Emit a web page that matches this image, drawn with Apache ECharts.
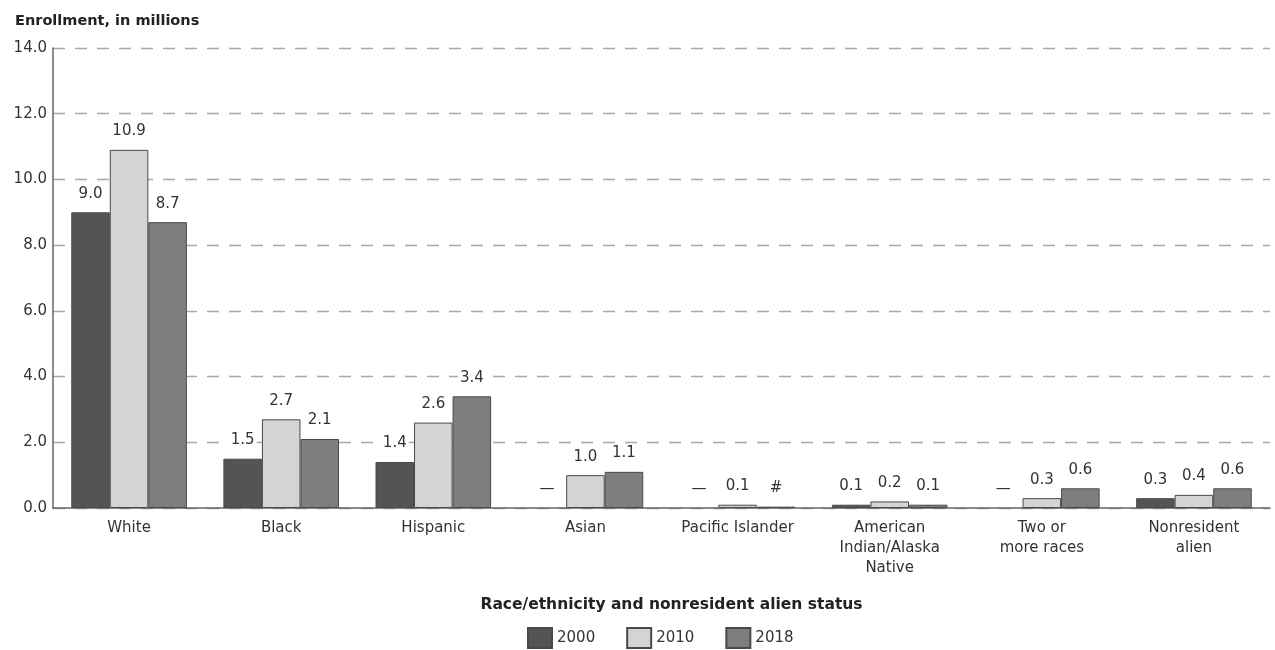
<!DOCTYPE html>
<html>
<head>
<meta charset="utf-8">
<script src="https://cdn.jsdelivr.net/npm/echarts@6/dist/echarts.min.js"></script>
<style>
  html, body { margin: 0; padding: 0; background: #fff; }
  #chart { width: 1275px; height: 650px; }
</style>
</head>
<body>
<div id="chart"></div>
<script>
// Categories along the x axis
const categories = [
  'White', 'Black', 'Hispanic', 'Asian', 'Pacific Islander',
  'American\nIndian/Alaska\nNative', 'Two or\nmore races', 'Nonresident\nalien'
];
const years = ['2000', '2010', '2018'];

// Enrollment, in millions (null = not available, shown as a dash)
const values2000 = [9.0, 1.5, 1.4, null, null, 0.1, null, 0.3];
const values2010 = [10.9, 2.7, 2.6, 1.0, 0.1, 0.2, 0.3, 0.4];
const values2018 = [8.7, 2.1, 3.4, 1.1, 0.04, 0.1, 0.6, 0.6];

// Values that round to zero are marked with '#'
const roundsToZeroBelow = 0.05;

const yTicks = [0, 2, 4, 6, 8, 10, 12, 14];

const colors = ['#545454', '#d4d4d4', '#7e7e7e'];
const font = '"DejaVu Sans", "Noto Sans", sans-serif';

function buildData(arr) {
  return arr.map(v => {
    if (v === null) {
      return {
        value: 0,
        itemStyle: { color: 'rgba(0,0,0,0)', borderWidth: 0 },
        label: { formatter: '\u2014' }
      };
    }
    if (v < roundsToZeroBelow) {
      return { value: v, label: { formatter: '#' } };
    }
    return { value: v };
  });
}

const seriesValues = [values2000, values2010, values2018];

const chart = echarts.init(document.getElementById('chart'), null, { renderer: 'canvas' });

chart.setOption({
  animation: false,
  backgroundColor: '#ffffff',
  title: {
    text: 'Enrollment, in millions',
    left: 10,
    top: 9,
    textStyle: { fontFamily: font, fontSize: 14.5, fontWeight: 'bold', color: '#222' }
  },
  legend: {
    top: 622,
    left: 522,
    itemWidth: 24,
    itemHeight: 20,
    itemGap: 31,
    icon: 'rect',
    data: years,
    textStyle: { fontFamily: font, fontSize: 15, color: '#333' }
  },
  grid: { left: 53, right: 5, top: 48, bottom: 142 },
  xAxis: {
    type: 'category',
    data: categories,
    name: 'Race/ethnicity and nonresident alien status',
    nameLocation: 'middle',
    nameGap: 89,
    nameTextStyle: { fontFamily: font, fontSize: 15.5, fontWeight: 'bold', color: '#222', padding: [0, 0, 0, 20] },
    axisLine: { lineStyle: { color: '#666', width: 1.5 } },
    axisTick: { show: false },
    axisLabel: {
      fontFamily: font, fontSize: 15, color: '#333', lineHeight: 20, margin: 10,
      interval: 0
    }
  },
  yAxis: {
    type: 'value',
    min: 0,
    max: 14,
    interval: 2,
    axisLine: { show: true, lineStyle: { color: '#666', width: 1.5 } },
    axisTick: { show: false },
    axisLabel: {
      fontFamily: font, fontSize: 15, color: '#333', margin: 6,
      formatter: v => yTicks.includes(v) ? v.toFixed(1) : ''
    },
    splitLine: { lineStyle: { color: '#a8a8a8', type: [12, 10], width: 1.3 } }
  },
  series: years.map((y, i) => ({
    name: y,
    type: 'bar',
    data: buildData(seriesValues[i]),
    barGap: '0%',
    barCategoryGap: '24%',
    itemStyle: { color: colors[i], borderColor: '#4a4a4a', borderWidth: 1 },
    label: {
      show: true,
      position: 'top',
      distance: 10,
      fontFamily: font,
      fontSize: 15,
      color: '#333',
      backgroundColor: '#fff',
      padding: [1, 2],
      formatter: p => p.value.toFixed(1)
    }
  }))
});
</script>
</body>
</html>
